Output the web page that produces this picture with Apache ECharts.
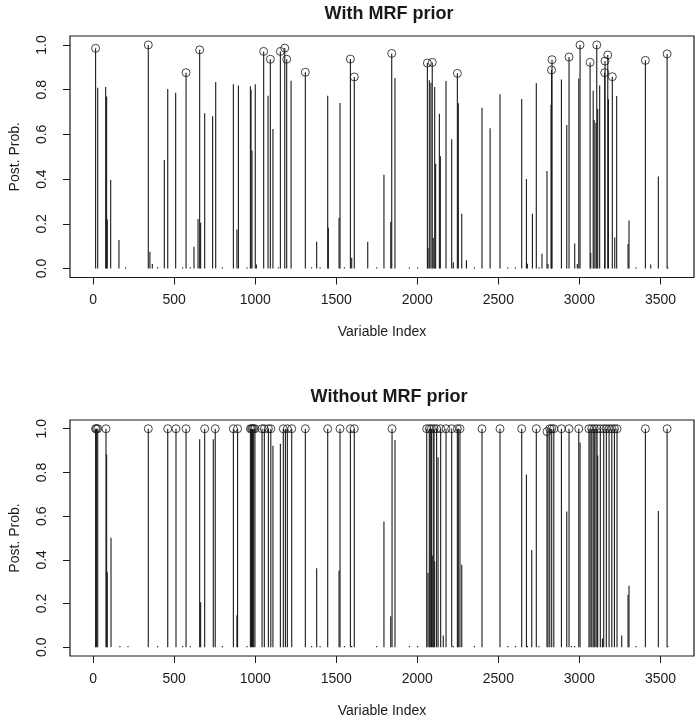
<!DOCTYPE html>
<html>
<head>
<meta charset="utf-8">
<script src="https://cdn.jsdelivr.net/npm/echarts@6/dist/echarts.min.js"></script>
<style>
html,body{margin:0;padding:0;background:#fff;}
#chart{width:696px;height:719px;}
</style>
</head>
<body>
<div id="chart"></div>
<script>
// ---------- Data: top panel (With MRF prior) ----------
const topX = [15,28,77,83,87,108,159,200,340,350,365,398,439,460,509,552,573,599,622,647,657,663,688,737,756,797,865,887,896,949,970,974,980,1000,1007,1052,1079,1093,1109,1142,1155,1182,1194,1221,1309,1348,1379,1400,1447,1451,1517,1523,1550,1587,1595,1611,1694,1749,1794,1836,1842,1862,1951,2002,2062,2066,2074,2084,2092,2098,2107,2113,2136,2142,2177,2212,2222,2247,2253,2274,2303,2352,2399,2449,2510,2558,2605,2644,2673,2679,2710,2734,2751,2769,2800,2806,2825,2828,2831,2889,2922,2936,2971,2987,2996,3004,3066,3070,3085,3091,3102,3107,3113,3125,3156,3158,3175,3179,3203,3218,3230,3300,3306,3349,3407,3440,3487,3541,3545];
const topY = [0.985,0.809,0.812,0.769,0.219,0.396,0.128,0.006,1.0,0.075,0.02,0.006,0.485,0.803,0.786,0.006,0.876,0.006,0.097,0.222,0.978,0.205,0.695,0.681,0.834,0.006,0.824,0.175,0.819,0.006,0.815,0.80,0.528,0.824,0.018,0.971,0.773,0.936,0.624,0.006,0.971,0.986,0.936,0.84,0.878,0.006,0.12,0.006,0.773,0.182,0.227,0.74,0.006,0.937,0.048,0.857,0.12,0.006,0.419,0.209,0.962,0.852,0.006,0.006,0.919,0.093,0.842,0.831,0.922,0.137,0.812,0.469,0.692,0.502,0.839,0.578,0.028,0.873,0.739,0.245,0.037,0.006,0.719,0.628,0.78,0.006,0.006,0.758,0.401,0.021,0.245,0.83,0.006,0.066,0.436,0.02,0.733,0.888,0.934,0.846,0.642,0.946,0.112,0.02,0.85,1.0,0.922,0.07,0.796,0.664,0.652,1.0,0.713,0.819,0.876,0.928,0.955,0.757,0.858,0.139,0.772,0.11,0.215,0.006,0.931,0.018,0.412,0.96,0.006];
const topCircleX = [15,340,573,657,1052,1093,1155,1182,1194,1309,1587,1611,1842,2062,2092,2247,2828,2831,2936,3004,3066,3107,3156,3158,3175,3203,3407,3541];

// ---------- Data: bottom panel (Without MRF prior) ----------
const botX = [15,20,28,79,83,87,110,165,215,340,398,460,511,552,573,599,657,663,688,741,753,797,865,887,891,949,970,977,983,990,998,1042,1056,1081,1096,1109,1155,1173,1186,1198,1225,1309,1348,1379,1400,1447,1517,1523,1550,1587,1595,1611,1749,1794,1836,1844,1862,1951,2002,2058,2066,2074,2080,2087,2092,2098,2103,2107,2119,2128,2144,2160,2177,2212,2222,2247,2253,2263,2274,2352,2399,2510,2558,2605,2644,2673,2679,2706,2734,2751,2800,2806,2817,2829,2842,2889,2922,2936,2951,2971,2996,3004,3059,3066,3076,3085,3092,3102,3109,3113,3129,3142,3150,3166,3183,3200,3216,3232,3261,3300,3306,3349,3407,3487,3541,3545];
const botY = [1,1,1,1,0.882,0.343,0.501,0.006,0.006,1,0.006,1,1,0.006,1,0.006,0.952,0.206,1,0.952,1,0.006,1,0.146,1,0.006,1,1,1,1,1,1,1,1,1,0.922,0.931,1,1,1,1,1,0.006,0.361,0.006,1,0.351,1,0.006,1,0.006,1,0.006,0.575,0.142,1,0.949,0.006,0.006,1,0.340,1,1,1,0.42,1,1,0.394,1,0.87,1,0.054,1,1,0.006,1,1,1,0.378,0.006,1,1,0.006,0.006,1,0.791,0.006,0.445,1,0.006,0.987,1,1,1,1,1,0.621,1,0.006,0.006,1,0.937,1,1,1,1,1,1,1,0.878,1,0.04,1,1,1,1,1,1,0.054,0.24,0.281,0.006,1,0.624,1,0.006];
const botCircleX = [15,20,28,79,340,460,511,573,688,753,865,891,970,977,983,990,998,1042,1056,1081,1096,1173,1198,1225,1309,1447,1523,1587,1611,1844,2058,2074,2087,2103,2119,2144,2177,2212,2247,2263,2399,2510,2644,2734,2800,2817,2829,2842,2889,2936,2996,3059,3076,3092,3109,3129,3150,3166,3183,3200,3216,3232,3407,3541];

// ---------- Axis ticks ----------
const xTicks = [0,500,1000,1500,2000,2500,3000,3500];
const yTicks = [0,0.2,0.4,0.6,0.8,1.0];

function pairs(xs, ys){ return xs.map((x,i)=>[x, ys[i]]); }
function circles(cx, xs, ys){ return cx.map(x=>[x, ys[xs.indexOf(x)]]); }

const FONT = 'Liberation Sans, Arial, Helvetica, sans-serif';
const INK = '#1a1a1a';

function renderSpike(params, api){
  const x = api.value(0), y = api.value(1);
  const p0 = api.coord([x, 0]);
  const p1 = api.coord([x, y]);
  return {type:'line', shape:{x1:p0[0], y1:p0[1], x2:p1[0], y2:p1[1]},
          style:{stroke:INK, lineWidth:1.1}};
}

function makeX(gi){
  return {
    gridIndex: gi, type:'value', min:-143, max:3707,
    axisLine:{show:false, onZero:false},
    axisTick:{show:true, inside:false, length:7, customValues:xTicks, lineStyle:{color:INK, width:1}},
    axisLabel:{show:true, customValues:xTicks, margin:16, color:INK, fontFamily:FONT, fontSize:14,
      formatter:v=>String(v)},
    splitLine:{show:false},
    name:'Variable Index', nameLocation:'middle', nameGap:48,
    nameTextStyle:{color:INK, fontFamily:FONT, fontSize:14}
  };
}
function makeY(gi){
  return {
    gridIndex: gi, type:'value', min:-0.04, max:1.04,
    axisLine:{show:false, onZero:false},
    axisTick:{show:true, inside:false, length:7, customValues:yTicks, lineStyle:{color:INK, width:1}},
    axisLabel:{show:true, customValues:yTicks, rotate:90, margin:21, color:INK, fontFamily:FONT, fontSize:14,
      formatter:v=>v.toFixed(1)},
    splitLine:{show:false},
    name:'Post. Prob.', nameLocation:'middle', nameGap:48, nameRotate:90,
    nameTextStyle:{color:INK, fontFamily:FONT, fontSize:14}
  };
}

const circleStyle = {color:'rgba(255,255,255,0)', borderColor:INK, borderWidth:1};

const chart = echarts.init(document.getElementById('chart'), null, {renderer:'canvas'});
chart.setOption({
  animation:false,
  backgroundColor:'#fff',
  title:[
    {text:'With MRF prior', left:384, top:0, textAlign:'center',
     textStyle:{fontFamily:FONT, fontWeight:'bold', fontSize:18, color:INK}},
    {text:'Without MRF prior', left:384, top:383, textAlign:'center',
     textStyle:{fontFamily:FONT, fontWeight:'bold', fontSize:18, color:INK}}
  ],
  grid:[
    {left:70, top:36, width:624, height:241.5, show:true, borderColor:INK, borderWidth:1.2, backgroundColor:'transparent'},
    {left:70, top:420, width:624, height:241, show:true, borderColor:INK, borderWidth:1.2, backgroundColor:'transparent'}
  ],
  xAxis:[makeX(0), makeX(1)],
  yAxis:[makeY(0), makeY(1)],
  series:[
    {type:'custom', xAxisIndex:0, yAxisIndex:0, renderItem:renderSpike, data:pairs(topX, topY), clip:true},
    {type:'scatter', xAxisIndex:0, yAxisIndex:0, data:circles(topCircleX, topX, topY), symbol:'circle', symbolSize:8,
      itemStyle:circleStyle, z:5},
    {type:'custom', xAxisIndex:1, yAxisIndex:1, renderItem:renderSpike, data:pairs(botX, botY), clip:true},
    {type:'scatter', xAxisIndex:1, yAxisIndex:1, data:circles(botCircleX, botX, botY), symbol:'circle', symbolSize:8,
      itemStyle:circleStyle, z:5}
  ]
});
</script>
</body>
</html>
